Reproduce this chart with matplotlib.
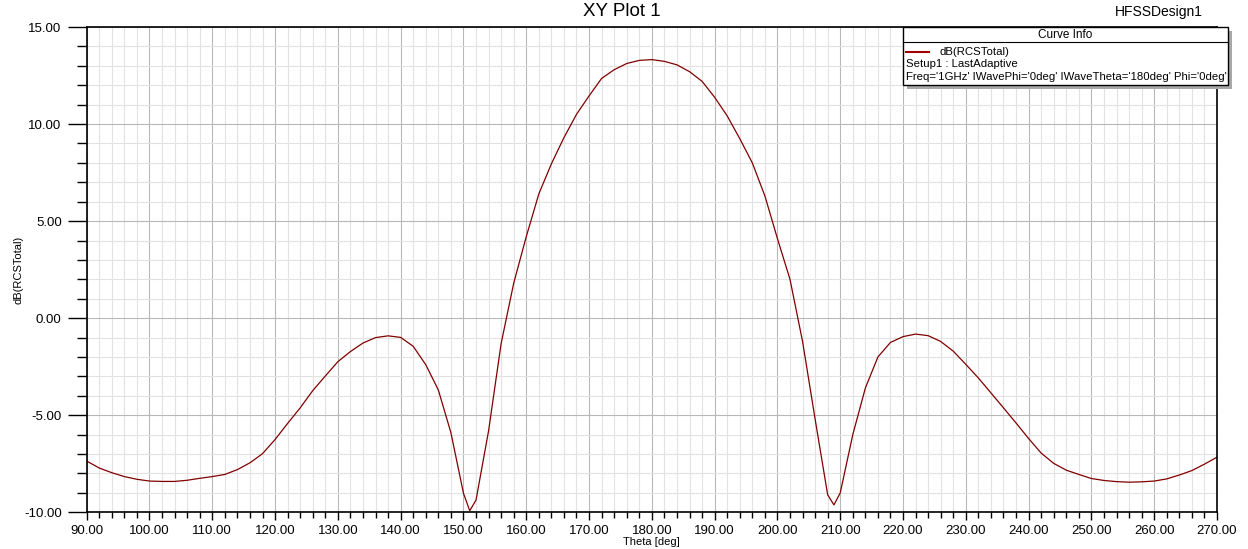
import matplotlib
matplotlib.use("Agg")
import matplotlib.pyplot as plt
from matplotlib.lines import Line2D
from matplotlib.patches import Rectangle
from matplotlib.ticker import MultipleLocator, FormatStrFormatter

plt.rcParams["font.family"] = ["Liberation Sans", "DejaVu Sans"]

# Theta [deg] vs dB(RCSTotal)
theta = [90, 92, 94, 96, 98, 100, 102, 104, 106, 108, 110, 112, 114, 116, 118,
         120, 122, 124, 126, 128, 130, 132, 134, 136, 138, 140, 142, 144, 146,
         148, 150, 151, 152, 154, 156, 158, 160, 162, 164, 166, 168, 170, 172,
         174, 176, 178, 180, 182, 184, 186, 188, 190, 192, 194, 196, 198, 200,
         202, 204, 206, 208, 209, 210, 212, 214, 216, 218, 220, 222, 224, 226,
         228, 230, 232, 234, 236, 238, 240, 242, 244, 246, 248, 250, 252, 254,
         256, 258, 260, 262, 264, 266, 268, 270]
rcs_db = [-7.36, -7.72, -7.96, -8.16, -8.30, -8.39, -8.41, -8.41, -8.35, -8.25,
          -8.16, -8.05, -7.80, -7.45, -6.98, -6.25, -5.42, -4.62, -3.73, -2.98,
          -2.24, -1.72, -1.28, -1.00, -0.91, -0.99, -1.45, -2.40, -3.70, -5.90,
          -9.02, -9.92, -9.37, -5.80, -1.30, 1.80, 4.20, 6.40, 7.95, 9.30,
          10.50, 11.45, 12.35, 12.80, 13.12, 13.28, 13.32, 13.23, 13.05, 12.70,
          12.20, 11.38, 10.42, 9.25, 8.00, 6.30, 4.10, 2.00, -1.20, -5.20,
          -9.10, -9.62, -9.00, -6.00, -3.60, -2.00, -1.25, -0.95, -0.82, -0.90,
          -1.20, -1.70, -2.38, -3.08, -3.85, -4.62, -5.40, -6.20, -6.95, -7.48,
          -7.83, -8.05, -8.26, -8.36, -8.42, -8.45, -8.43, -8.39, -8.28, -8.08,
          -7.85, -7.52, -7.16]

title = "XY Plot 1"
design_name = "HFSSDesign1"
trace_name = "dB(RCSTotal)"
setup_name = "Setup1 : LastAdaptive"
sweep_info = "Freq='1GHz' IWavePhi='0deg' IWaveTheta='180deg' Phi='0deg'"

W, H = 1248, 549
fig = plt.figure(figsize=(W / 100, H / 100), dpi=100)
ax = fig.add_axes([86.7 / W, 1 - 512.3 / H, (1217 - 86.7) / W, (512.3 - 27) / H])

ax.plot(theta, rcs_db, color="#800000", lw=0.9)

ax.set_xlim(90, 270)
ax.set_ylim(-10, 15)
ax.xaxis.set_major_locator(MultipleLocator(10))
ax.xaxis.set_minor_locator(MultipleLocator(2))
ax.yaxis.set_major_locator(MultipleLocator(5))
ax.yaxis.set_minor_locator(MultipleLocator(1))
ax.xaxis.set_major_formatter(FormatStrFormatter("%.2f"))
ax.yaxis.set_major_formatter(FormatStrFormatter("%.2f"))

ax.grid(which="major", color="#b8b8b8", lw=0.8)
ax.grid(which="minor", color="#e2e2e2", lw=0.8)
ax.set_axisbelow(True)

ax.tick_params(axis="x", which="major", length=6, width=1, pad=3, labelsize=9.5)
ax.tick_params(axis="x", which="minor", length=4, width=1)
ax.tick_params(axis="y", which="major", length=14, width=1, pad=4, labelsize=9.5)
ax.tick_params(axis="y", which="minor", length=7, width=1)
for s in ax.spines.values():
    s.set_linewidth(1.2)

ax.set_xlabel("Theta [deg]", fontsize=8, labelpad=0)
ax.set_ylabel("dB(RCSTotal)", fontsize=8, labelpad=0)

fig.text(622 / W, 1 - 12 / H, title, ha="center", va="center", fontsize=13.5)
fig.text(1203 / W, 1 - 12 / H, design_name, ha="right", va="center", fontsize=10)

# Curve Info box with drop shadow
bx0, bx1, by0, by1 = 903, 1228, 27, 85
fig.patches.append(Rectangle(((bx0 + 4) / W, 1 - (by1 + 4) / H), (bx1 - bx0) / W, (by1 - by0) / H,
                             transform=fig.transFigure, facecolor="#a8a8a8", edgecolor="none"))
fig.patches.append(Rectangle((bx0 / W, 1 - by1 / H), (bx1 - bx0) / W, (by1 - by0) / H,
                             transform=fig.transFigure, facecolor="white", edgecolor="black", lw=1))
fig.lines.append(Line2D([bx0 / W, bx1 / W], [1 - 42 / H, 1 - 42 / H], transform=fig.transFigure,
                        color="black", lw=0.8))
fig.text((bx0 + bx1) / 2 / W, 1 - 35 / H, "Curve Info", ha="center", va="center", fontsize=8.5)
fig.lines.append(Line2D([906 / W, 929 / W], [1 - 52 / H, 1 - 52 / H], transform=fig.transFigure,
                        color="#a00000", lw=1.5))
fig.text(939 / W, 1 - 52 / H, trace_name, ha="left", va="center", fontsize=8.2)
fig.text(906 / W, 1 - 64 / H, setup_name, ha="left", va="center", fontsize=8.2)
fig.text(906 / W, 1 - 77 / H, sweep_info, ha="left", va="center", fontsize=8.2)

fig.savefig("out.png", dpi=100)
